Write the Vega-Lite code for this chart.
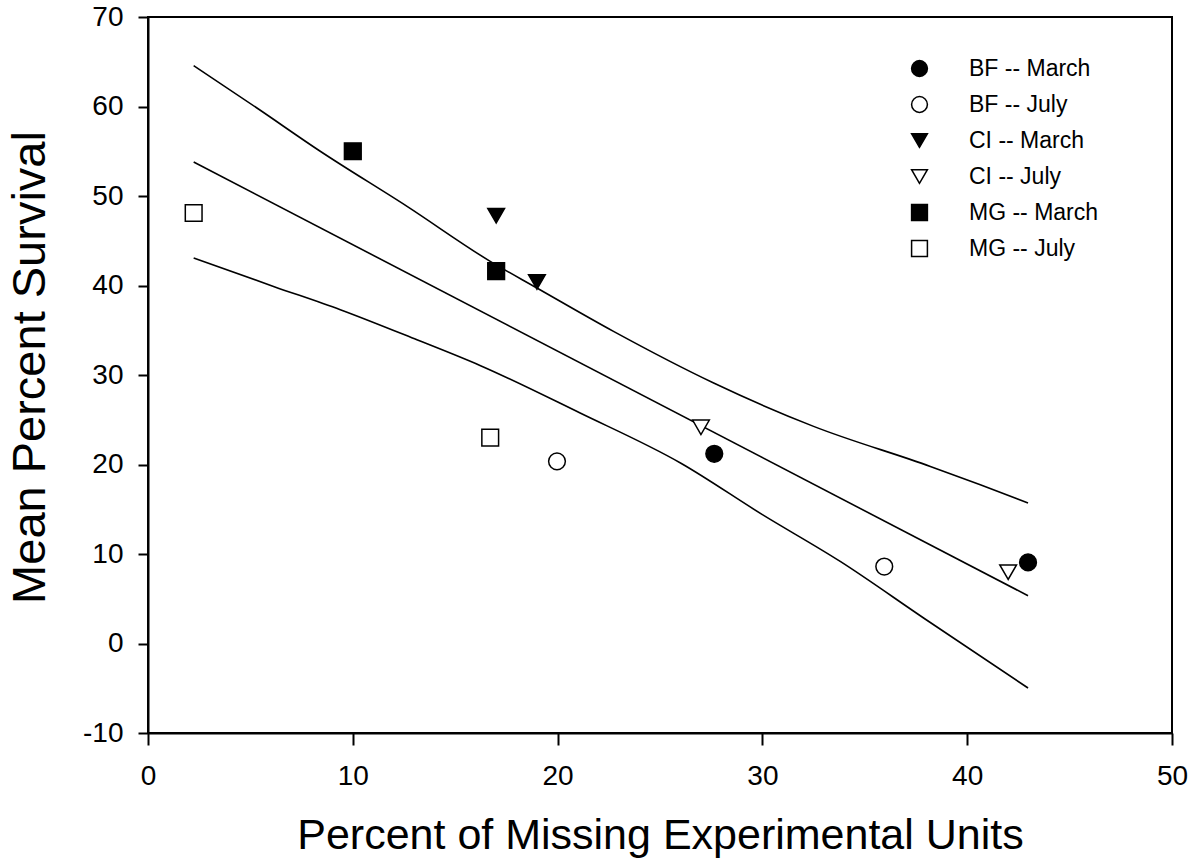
{
  "$schema": "https://vega.github.io/schema/vega-lite/v6.json",
  "autosize": {"type": "none"},
  "width": 1024,
  "height": 716,
  "padding": {"left": 148, "top": 17, "right": 26, "bottom": 135},
  "background": "white",
  "config": {
    "font": "Liberation Sans",
    "view": {"stroke": "black", "strokeWidth": 2},
    "axis": {
      "domainColor": "black", "domainWidth": 2,
      "tickColor": "black", "tickWidth": 2,
      "labelColor": "black", "labelFont": "Liberation Sans", "labelFontSize": 28,
      "titleColor": "black", "titleFont": "Liberation Sans", "titleFontWeight": "normal",
      "grid": false
    },
    "legend": {
      "labelFont": "Liberation Sans", "labelFontSize": 23, "labelColor": "black"
    }
  },
  "datasets": {
    "pts": [
      {"pct": 27.65, "surv": 21.2, "series": "BF -- March"},
      {"pct": 42.97, "surv": 9.06, "series": "BF -- March"},
      {"pct": 19.97, "surv": 20.35, "series": "BF -- July"},
      {"pct": 35.95, "surv": 8.6, "series": "BF -- July"},
      {"pct": 17.0, "surv": 47.8, "series": "CI -- March"},
      {"pct": 18.99, "surv": 40.4, "series": "CI -- March"},
      {"pct": 27.0, "surv": 24.15, "series": "CI -- July"},
      {"pct": 42.0, "surv": 7.97, "series": "CI -- July"},
      {"pct": 10.0, "surv": 55.0, "series": "MG -- March"},
      {"pct": 17.0, "surv": 41.6, "series": "MG -- March"},
      {"pct": 2.23, "surv": 48.1, "series": "MG -- July"},
      {"pct": 16.71, "surv": 23.0, "series": "MG -- July"}
    ],
    "lines": [
      {"pct": 2.23, "surv": 53.8, "line": "fit"},
      {"pct": 42.97, "surv": 5.34, "line": "fit"},
      {"pct": 2.23, "surv": 64.56, "line": "upper"},
      {"pct": 5.32, "surv": 59.83, "line": "upper"},
      {"pct": 8.41, "surv": 55.0, "line": "upper"},
      {"pct": 12.65, "surv": 48.84, "line": "upper"},
      {"pct": 16.71, "surv": 42.7, "line": "upper"},
      {"pct": 18.99, "surv": 39.72, "line": "upper"},
      {"pct": 22.73, "surv": 34.87, "line": "upper"},
      {"pct": 27.62, "surv": 29.1, "line": "upper"},
      {"pct": 32.5, "surv": 24.26, "line": "upper"},
      {"pct": 38.2, "surv": 19.79, "line": "upper"},
      {"pct": 40.64, "surv": 17.74, "line": "upper"},
      {"pct": 42.97, "surv": 15.7, "line": "upper"},
      {"pct": 2.23, "surv": 43.07, "line": "lower"},
      {"pct": 6.13, "surv": 39.9, "line": "lower"},
      {"pct": 9.39, "surv": 37.3, "line": "lower"},
      {"pct": 13.13, "surv": 33.94, "line": "lower"},
      {"pct": 16.21, "surv": 31.07, "line": "lower"},
      {"pct": 21.1, "surv": 25.75, "line": "lower"},
      {"pct": 26.0, "surv": 20.17, "line": "lower"},
      {"pct": 30.0, "surv": 14.4, "line": "lower"},
      {"pct": 33.8, "surv": 9.17, "line": "lower"},
      {"pct": 37.87, "surv": 2.85, "line": "lower"},
      {"pct": 42.97, "surv": -4.97, "line": "lower"}
    ]
  },
  "encoding": {
    "x": {
      "field": "pct", "type": "quantitative",
      "scale": {"domain": [0, 50], "nice": false, "zero": false},
      "axis": {
        "title": "Percent of Missing Experimental Units",
        "titleFontSize": 43, "titlePadding": 24,
        "values": [0, 10, 20, 30, 40, 50],
        "tickSize": 12, "labelPadding": 17, "labelFlush": false,
        "labelFontSize": 28,
        "labelExpr": "'' + datum.value"
      }
    },
    "y": {
      "field": "surv", "type": "quantitative",
      "scale": {"domain": [-10, 70], "nice": false, "zero": false},
      "axis": {
        "title": "Mean Percent Survival",
        "titleFontSize": 47, "titlePadding": 28, "titleY": 350,
        "values": [-10, 0, 10, 20, 30, 40, 50, 60, 70],
        "tickSize": 10, "labelPadding": 15, "labelFlush": false,
        "labelFontSize": 28,
        "labelExpr": "'' + datum.value"
      }
    }
  },
  "layer": [
    {
      "data": {"name": "lines"},
      "mark": {"type": "line", "color": "black", "strokeWidth": 1.6, "interpolate": "monotone"},
      "encoding": {"detail": {"field": "line"}}
    },
    {
      "data": {"name": "pts"},
      "mark": {"type": "point", "filled": false, "stroke": "black", "strokeWidth": 1.5, "opacity": 1, "size": 280},
      "encoding": {
        "shape": {
          "field": "series", "type": "nominal",
          "scale": {
            "domain": ["BF -- March", "BF -- July", "CI -- March", "CI -- July", "MG -- March", "MG -- July"],
            "range": ["circle", "circle", "triangle-down", "triangle-down", "square", "square"]
          },
          "legend": {
            "title": null, "orient": "none", "legendX": 760, "legendY": 40,
            "symbolSize": 250, "labelOffset": 38, "rowPadding": 12,
            "encode": {"symbols": {"update": {"stroke": {"value": "black"}, "strokeWidth": {"value": 1.5}, "opacity": {"value": 1}}}}
          }
        },
        "fill": {
          "field": "series", "type": "nominal",
          "scale": {
            "domain": ["BF -- March", "BF -- July", "CI -- March", "CI -- July", "MG -- March", "MG -- July"],
            "range": ["black", "white", "black", "white", "black", "white"]
          },
          "legend": {
            "title": null, "orient": "none", "legendX": 760, "legendY": 40,
            "symbolSize": 250, "labelOffset": 38, "rowPadding": 12,
            "encode": {"symbols": {"update": {"stroke": {"value": "black"}, "strokeWidth": {"value": 1.5}, "opacity": {"value": 1}}}}
          }
        }
      }
    }
  ]
}
